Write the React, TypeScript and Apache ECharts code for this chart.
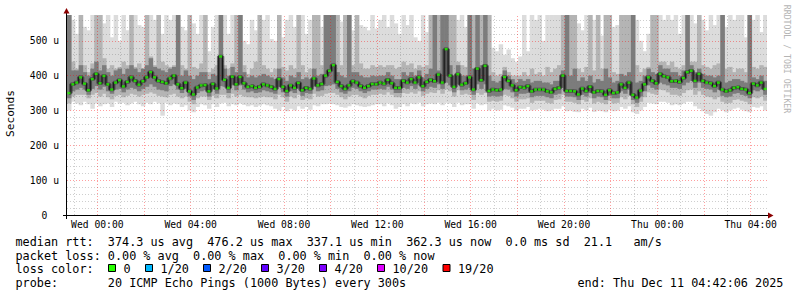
import { useEffect, useRef } from "react";
import * as echarts from "echarts";

// time: hours relative to Wed 00:00; graph spans Tue 22:42 .. Thu 04:42, 10-minute steps
const START_HOUR = -1.3;
const END_HOUR = 28.7;
const STEP_HOURS = 1 / 6;
const Y_MAX = 574;

// median RTT (microseconds)
const medianRtt = [
  350,375,380,395,377,358,390,405,378,399,375,360,380,387,369,382,395,385,374,384,395,410,395,385,382,378,
  392,400,375,364,380,355,346,366,372,373,355,376,363,455,388,365,397,375,396,378,368,370,365,368,375,372,
  368,362,390,368,356,372,365,379,358,365,362,392,372,376,400,414,430,382,370,362,372,384,380,370,365,
  370,376,375,380,377,388,378,365,365,385,380,390,380,395,370,382,388,384,403,380,476,400,368,404,374,378,
  395,360,420,387,428,356,360,358,360,396,385,372,358,367,365,370,355,360,360,360,355,352,362,365,400,
  356,356,355,346,363,356,368,352,356,355,345,358,350,352,375,365,380,345,337,357,375,395,385,378,405,398,
  395,384,385,382,393,410,414,385,405,385,380,378,370,380,360,355,358,365,367,362,360,350,377,372,380,362,
];

// smoke: slowest ping (outer band top)
const pingMax = [
  580,560,520,580,540,530,580,580,580,550,580,510,580,500,580,530,580,580,545,540,580,580,560,580,520,580,
  560,580,580,540,530,580,550,520,580,580,470,540,580,580,580,520,580,580,580,500,490,560,530,580,560,580,
  505,500,580,510,560,580,540,580,580,520,560,580,580,540,580,580,580,580,555,580,580,530,580,545,540,
  530,580,535,560,580,540,580,550,520,580,545,580,510,500,580,525,580,580,580,580,580,580,580,560,580,540,
  580,580,580,580,580,580,480,470,490,460,475,450,440,455,580,470,580,560,580,500,580,580,580,580,580,
  580,580,580,550,530,580,580,560,580,515,580,580,540,545,580,580,580,580,560,500,470,520,580,580,580,560,
  580,560,580,520,580,580,580,550,580,560,530,580,545,580,580,540,580,560,580,580,510,580,560,580,525,580,
];

// smoke: upper edge of middle band
const midHigh = [
  580,440,420,580,430,410,435,580,580,450,420,430,420,425,440,430,580,425,435,420,580,455,430,580,440,430,
  425,430,580,430,420,580,425,420,435,580,410,420,430,580,430,420,435,580,580,430,405,420,440,580,430,420,
  410,420,580,425,415,430,420,580,430,410,420,580,580,430,580,580,580,580,430,580,580,430,580,435,420,
  420,430,425,430,425,430,430,420,425,440,430,435,420,430,425,430,580,580,580,580,580,580,580,440,430,425,
  580,580,580,580,580,580,410,400,405,425,410,400,400,400,410,400,420,405,410,400,425,410,420,430,580,
  580,580,580,420,410,425,580,415,580,420,580,580,410,405,580,580,580,580,430,410,420,425,580,580,440,440,
  430,440,425,420,430,580,440,440,580,430,425,420,430,435,580,420,425,410,420,420,410,580,425,420,430,425,
];

// smoke: upper edge of dark band
const darkHigh = [
  580,415,415,430,410,400,420,440,415,430,410,400,415,420,405,420,430,420,410,420,430,450,425,420,415,410,
  420,425,580,400,415,400,390,400,410,410,390,405,400,580,420,400,425,410,580,410,395,400,395,400,405,400,
  395,390,420,395,385,400,395,410,390,395,390,420,400,405,580,580,580,410,400,395,580,410,410,400,395,
  395,400,398,400,400,410,400,390,390,410,400,410,400,415,395,405,420,580,415,580,580,430,400,430,400,400,
  580,420,580,430,580,400,385,380,385,415,400,390,380,390,385,390,380,385,385,380,380,375,385,385,415,
  580,400,420,385,395,385,400,380,390,385,420,395,380,385,405,400,410,580,380,385,400,420,410,405,430,420,
  420,410,410,400,415,580,430,410,420,405,400,400,395,400,580,380,385,390,390,385,380,580,395,390,400,385,
];

// smoke: lower edge of dark band
const darkLow = [
  335,355,360,365,360,345,362,370,360,368,355,348,360,362,352,360,365,362,355,362,368,375,368,360,358,355,
  370,375,360,350,362,340,330,350,355,358,340,360,348,370,368,350,372,358,372,360,352,355,350,352,358,355,
  352,348,368,352,340,355,350,362,342,350,348,368,355,358,370,372,375,362,352,348,355,365,362,355,350,
  355,360,360,362,360,368,360,350,350,365,362,370,362,372,355,362,368,365,375,362,380,372,352,375,358,360,
  365,345,375,362,375,340,342,340,342,362,360,352,340,348,348,350,338,342,342,342,338,335,345,348,365,
  340,340,338,330,345,340,350,335,340,338,330,342,335,335,355,348,360,330,322,340,355,372,365,360,380,375,
  372,365,365,362,372,380,385,365,380,365,362,360,352,360,342,338,340,348,350,345,342,335,358,355,360,345,
];

// smoke: lower edge of middle band
const midLow = [
  320,340,345,345,345,335,345,350,340,348,338,332,342,345,338,342,348,345,340,345,348,352,348,342,340,338,
  345,348,340,335,340,325,318,335,340,340,330,342,335,345,345,335,348,340,345,340,338,338,335,338,340,338,
  338,332,345,338,325,340,335,345,330,335,332,348,340,342,348,350,350,345,338,332,340,345,345,340,335,
  342,345,345,348,345,352,345,338,338,350,348,352,348,355,342,348,352,350,358,348,360,355,340,358,345,348,
  345,330,350,345,350,325,328,325,328,345,342,335,325,332,332,335,322,328,328,328,322,320,330,332,345,
  325,325,322,318,330,325,335,320,325,322,318,328,320,322,338,332,342,318,310,325,338,352,348,345,360,358,
  352,345,345,342,350,358,360,345,355,345,340,338,332,338,325,320,322,330,332,328,325,318,338,335,340,328,
];

// smoke: fastest ping (outer band bottom)
const pingMin = [
  300,325,320,315,325,318,305,320,312,318,320,310,325,320,322,315,320,325,318,312,322,318,325,320,285,322,
  315,320,318,310,315,300,295,310,318,315,305,318,310,320,322,312,318,315,320,316,312,315,310,314,318,315,
  312,305,300,310,298,305,300,312,305,310,302,315,312,318,318,320,318,315,310,308,312,318,315,312,310,
  312,315,318,318,312,320,315,305,310,318,312,320,318,322,312,318,320,318,322,315,322,320,310,322,315,318,
  318,305,320,315,318,300,305,300,302,315,312,308,300,305,305,310,300,302,305,302,298,300,305,305,312,
  298,300,296,295,305,300,308,296,300,298,295,302,298,300,310,305,312,295,290,300,310,322,320,318,325,325,
  322,315,318,315,320,325,325,312,305,298,290,285,295,305,300,295,300,305,308,302,298,295,310,308,312,300,
];

const xLabelHours = [0, 4, 8, 12, 16, 20, 24, 28];
const xMajorHours = [0, 2, 4, 6, 8, 10, 12, 14, 16, 18, 20, 22, 24, 26, 28];
const xMinorHours = [-1, 1, 3, 5, 7, 9, 11, 13, 15, 17, 19, 21, 23, 25, 27];
const yMajorTicks = [100, 200, 300, 400, 500];
const yMinorTicks = [20,40,60,80,120,140,160,180,220,240,260,280,320,340,360,380,420,440,460,480,520,540,560];

const statsLine = "median rtt:  374.3 us avg  476.2 us max  337.1 us min  362.3 us now  0.0 ms sd  21.1   am/s";
const lossLine = "packet loss: 0.00 % avg  0.00 % max  0.00 % min  0.00 % now";
const lossColorTitle = "loss color:";
const lossLabels = ["0", "1/20", "2/20", "3/20", "4/20", "10/20", "19/20"];
const lossColors = ["#26ff00", "#00b8ff", "#0059ff", "#5e00ff", "#7e00ff", "#dd00ff", "#ff0000"];
const probeLine = "probe:       20 ICMP Echo Pings (1000 Bytes) every 300s";
const endLine = "end: Thu Dec 11 04:42:06 2025";

const MONO = '"DejaVu Sans Mono", "Liberation Mono", monospace';
const nb = (s: string) => s.replace(/ /g, "\u00A0");

export default function App() {
  const ref = useRef<HTMLDivElement>(null);

  useEffect(() => {
    document.body.style.margin = "0";
    const chart = echarts.init(ref.current!, null, { renderer: "svg" });
    const tStart = (i: number) => START_HOUR + i * STEP_HOURS;

    const band = (lo: number[], hi: number[], color: string, z: number) => ({
      type: "custom",
      silent: true,
      z,
      clip: true,
      data: lo.map((l, i) => [tStart(i), l, hi[i]]),
      encode: { x: 0, y: [1, 2] },
      renderItem: (_p: any, api: any) => {
        const t = api.value(0);
        const l = api.value(1);
        const h = Math.min(api.value(2), Y_MAX);
        const a = api.coord([t, h]);
        const b = api.coord([t + STEP_HOURS, l]);
        return {
          type: "rect",
          shape: { x: a[0], y: a[1], width: b[0] - a[0] + 0.6, height: b[1] - a[1] },
          style: { fill: color },
        };
      },
    });

    const medianPts = medianRtt.map((v, i) => [tStart(i) + STEP_HOURS / 2, v]);

    const majorStyle = { color: "rgba(255,0,0,0.38)", width: 1, type: [1, 2] };
    const minorStyle = { color: "rgba(120,120,120,0.36)", width: 1, type: [1, 2] };

    const gridLines = [
      ...yMinorTicks.map((v) => ({ yAxis: v, lineStyle: minorStyle })),
      ...yMajorTicks.map((v) => ({ yAxis: v, lineStyle: majorStyle })),
      ...xMinorHours.map((v) => ({ xAxis: v, lineStyle: minorStyle })),
      ...xMajorHours.map((v) => ({ xAxis: v, lineStyle: majorStyle })),
    ];

    const fmtHour = (h: number) => {
      const day = h < 24 ? "Wed" : "Thu";
      const hh = String(Math.round(h) % 24).padStart(2, "0");
      return `${day} ${hh}:00`;
    };

    const boxX = [108.5, 145.5, 203.5, 261.5, 319.5, 377.5, 443];

    const graphics: any[] = [
      // axes
      { type: "line", shape: { x1: 63, y1: 215.5, x2: 769, y2: 215.5 }, style: { stroke: "#000", lineWidth: 1 }, z: 100 },
      { type: "line", shape: { x1: 66.5, y1: 219, x2: 66.5, y2: 12 }, style: { stroke: "#000", lineWidth: 1 }, z: 100 },
      { type: "polygon", shape: { points: [[768, 212.5], [773.5, 215.5], [768, 218.5]] }, style: { fill: "#8b0000" }, z: 101 },
      { type: "polygon", shape: { points: [[63.5, 13.5], [66.5, 8], [69.5, 13.5]] }, style: { fill: "#8b0000" }, z: 101 },
      // y title
      {
        type: "text", x: 10.5, y: 113.5, rotation: Math.PI / 2,
        style: { text: "Seconds", fontFamily: MONO, fontSize: 11.1, fill: "#000", align: "center", verticalAlign: "middle" },
      },
      // watermark
      {
        type: "text", x: 786.5, y: 59, rotation: -Math.PI / 2,
        style: { text: nb("RRDTOOL / TOBI OETIKER"), fontFamily: MONO, fontSize: 8.2, fill: "#b4b4b4", align: "center", verticalAlign: "middle" },
      },
      // legend lines
      { type: "text", x: 15.5, y: 241.5, style: { text: nb(statsLine), fontFamily: MONO, fontSize: 11.8, fill: "#000", verticalAlign: "middle" } },
      { type: "text", x: 15.5, y: 255.5, style: { text: nb(lossLine), fontFamily: MONO, fontSize: 11.8, fill: "#000", verticalAlign: "middle" } },
      { type: "text", x: 15.5, y: 269, style: { text: nb(lossColorTitle), fontFamily: MONO, fontSize: 11.8, fill: "#000", verticalAlign: "middle" } },
      { type: "text", x: 15.5, y: 283, style: { text: nb(probeLine), fontFamily: MONO, fontSize: 11.8, fill: "#000", verticalAlign: "middle" } },
      { type: "text", x: 577.5, y: 283, style: { text: nb(endLine), fontFamily: MONO, fontSize: 11.8, fill: "#000", verticalAlign: "middle" } },
    ];
    lossLabels.forEach((lab, k) => {
      graphics.push({
        type: "rect", shape: { x: boxX[k], y: 264.5, width: 7, height: 7 },
        style: { fill: lossColors[k], stroke: "#000", lineWidth: 1 },
      });
      graphics.push({
        type: "text", x: boxX[k] + 15, y: 269,
        style: { text: lab, fontFamily: MONO, fontSize: 11.8, fill: "#000", verticalAlign: "middle" },
      });
    });

    chart.setOption({
      animation: false,
      backgroundColor: "#ffffff",
      grid: { left: 67, top: 15, width: 700, height: 200, containLabel: false },
      xAxis: {
        type: "value",
        min: START_HOUR,
        max: END_HOUR,
        axisLine: { show: false },
        axisTick: { show: false },
        splitLine: { show: false },
        axisLabel: {
          customValues: xLabelHours,
          formatter: (v: number) => fmtHour(v),
          fontFamily: MONO,
          fontSize: 9.7,
          color: "#000",
          margin: 4,
        },
      },
      yAxis: {
        type: "value",
        min: 0,
        max: Y_MAX,
        interval: 100,
        axisLine: { show: false },
        axisTick: { show: false },
        splitLine: { show: false },
        axisLabel: {
          showMaxLabel: false,
          formatter: (v: number) => (v === 0 ? "0\u00A0\u00A0" : v % 100 === 0 ? `${v}\u00A0u` : ""),
          fontFamily: MONO,
          fontSize: 9.7,
          color: "#000",
          margin: 8,
        },
      },
      graphic: graphics,
      series: [
        band(pingMin, pingMax, "#dcdcdc", 1),
        band(midLow, midHigh, "#b4b4b4", 2),
        band(darkLow, darkHigh, "#7c7c7c", 3),
        {
          type: "line",
          z: 4,
          silent: true,
          data: [[START_HOUR, 0]],
          showSymbol: false,
          lineStyle: { opacity: 0 },
          markLine: { silent: true, symbol: ["none", "none"], label: { show: false }, animation: false, data: gridLines },
        },
        {
          type: "line", z: 5, silent: true, step: "middle", data: medianPts, showSymbol: false,
          lineStyle: { color: "rgba(50,50,50,0.7)", width: 3.5 },
        },
        {
          type: "line", z: 6, silent: true, step: "middle", data: medianPts, showSymbol: false,
          lineStyle: { color: "#151515", width: 1 },
        },
        {
          type: "scatter", z: 7, silent: true, data: medianPts, symbol: "rect", symbolSize: [3, 2.4],
          itemStyle: { color: "#26ff00" },
        },
      ],
    });

    return () => chart.dispose();
  }, []);

  return <div ref={ref} style={{ width: 797, height: 297 }} />;
}
